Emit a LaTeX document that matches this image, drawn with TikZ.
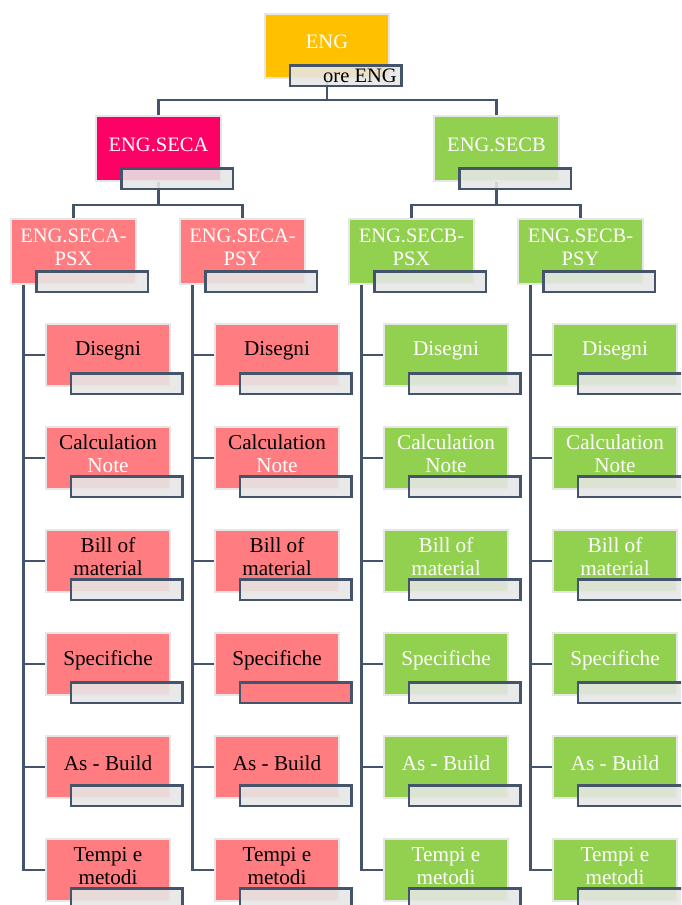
\documentclass[tikz,border=0pt]{standalone}
\usepackage{fontspec}
\setmainfont{Liberation Serif}
\usetikzlibrary{backgrounds}

\definecolor{engyellow}{HTML}{FFC000}
\definecolor{secmagenta}{HTML}{FF0066}
\definecolor{secgreen}{HTML}{92D050}
\definecolor{pspink}{HTML}{FF7C80}
\definecolor{slate}{HTML}{44546A}
\definecolor{rim}{HTML}{E6E6E6}
\definecolor{tagfill}{HTML}{E6E6E6}

\tikzset{
  unitbox/.style={rectangle, draw=rim, line width=2pt, inner sep=0pt,
    minimum width=124.5pt, minimum height=#1},
  tag/.style={rectangle, draw=slate, line width=2.6pt, fill=tagfill,
    fill opacity=0.88, minimum width=111.5pt, minimum height=20.5pt,
    inner sep=0pt, anchor=north west},
  caption/.style={font=\fontsize{20.5}{22.5}\selectfont, align=center,
    inner sep=0pt, text=white},
  leafcaption/.style={caption, font=\fontsize{21.2}{22.8}\selectfont},
  conn/.style={draw=slate, line width=2.6pt},
  % the one label strip that is filled instead of grey
  tag apsy-4/.style={fill=pspink, fill opacity=1}
}

% box with its caption and the label strip at its lower right
\newcommand{\orgunit}[8][caption]{%
  \node[unitbox=#5, fill=#6] (#2) at (#3,#4) {};
  \node[#1, text=#7] (#2-t) at ([yshift=4pt]#2.center) {#8};
  \node[tag, tag #2/.try] (#2-l) at ([xshift=25pt,yshift=15pt]#2.south west) {};
}

\begin{document}
\begin{tikzpicture}[x=1pt, y=-1pt]
  \useasboundingbox (0,0) rectangle (681,905);
  \clip (0,0) rectangle (681,905);

  % top level
  \orgunit{eng}{327}{46}{64pt}{engyellow}{white}{ENG}
  \node[caption, text=black, anchor=east] (eng-name) at ([xshift=-6pt]eng-l.east) {ore ENG};

  % sections
  \orgunit{seca}{158.5}{148.5}{65pt}{secmagenta}{white}{ENG.SECA}
  \orgunit{secb}{496.5}{148.5}{65pt}{secgreen}{white}{ENG.SECB}

  % sub-sections and their work packages
  \foreach \c/\bx/\lx/\fc/\tc/\nc/\txt in {
      apsx/73.5/108/pspink/black/white/{ENG.SECA-\\PSX},
      apsy/242.5/277/pspink/black/white/{ENG.SECA-\\PSY},
      bpsx/411.5/446/secgreen/white/white/{ENG.SECB-\\PSX},
      bpsy/580.5/615/secgreen/white/white/{ENG.SECB-\\PSY}} {
    \orgunit{\c}{\bx}{251.5}{65pt}{\fc}{white}{\txt}
    \foreach \r/\ry/\lbl in {
        1/355/{Disegni},
        2/458/{Calculation\\\textcolor{\nc}{Note}},
        3/561/{Bill of\\material},
        4/664/{Specifiche},
        5/767/{As - Build},
        6/870/{Tempi e\\metodi}} {
      \orgunit[leafcaption]{\c-\r}{\lx}{\ry}{62pt}{\fc}{\tc}{\lbl}
    }
  }

  % connectors
  \begin{pgfonlayer}{background}
    \coordinate (bar0) at (327,100);
    \draw[conn] (eng.south) -- (bar0);
    \draw[conn] (seca.north) |- (bar0) -| (secb.north);

    \coordinate (bara) at (158.5,205);
    \draw[conn] (seca.south) -- (bara);
    \draw[conn] (apsx.north) |- (bara) -| (apsy.north);

    \coordinate (barb) at (496.5,205);
    \draw[conn] (secb.south) -- (barb);
    \draw[conn] (bpsx.north) |- (barb) -| (bpsy.north);

    \foreach \c in {apsx, apsy, bpsx, bpsy} {
      \coordinate (\c-spine) at ([xshift=13pt]\c.south west);
      \draw[conn] (\c-spine) |- (\c-6.west);
      \foreach \r in {1,...,5} {
        \draw[conn] (\c-\r.west) -- (\c-\r.west -| \c-spine);
      }
    }
  \end{pgfonlayer}
\end{tikzpicture}
\end{document}
